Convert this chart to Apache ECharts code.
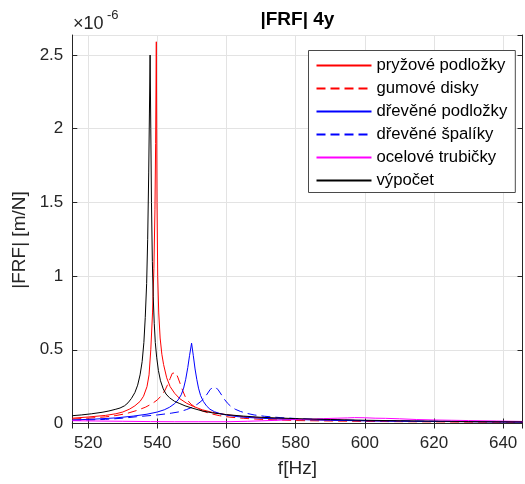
<!DOCTYPE html>
<html>
<head>
<meta charset="utf-8">
<script src="https://cdn.jsdelivr.net/npm/echarts@6/dist/echarts.min.js"></script>
<style>
html,body{margin:0;padding:0;background:#fff;}
#chart{width:525px;height:484px;}
</style>
</head>
<body>
<div id="chart"></div>
<script>
// ---- Data (values in units of 1e-6 m/N) ----
const seriesNames = ['pryžové podložky','gumové disky','dřevěné podložky','dřevěné špalíky','ocelové trubičky','výpočet'];

const fPryz = [515.4,520,525,528,530,532,533.5,535,536,537,537.6,538.1,538.6,539.0,539.3,539.5,539.7,539.9,540.1,540.4,540.8,541.3,541.8,542.7,543.7,545,546.5,548.5,550.5,553,556,560,565,575,590,610,630,645.6];
const vPryz = [0.036,0.044,0.055,0.066,0.078,0.098,0.12,0.15,0.185,0.25,0.33,0.50,0.75,1.05,1.45,1.90,2.59,1.50,1.00,0.75,0.58,0.47,0.40,0.31,0.25,0.205,0.168,0.137,0.115,0.093,0.075,0.060,0.046,0.032,0.023,0.016,0.012,0.010];

const fGum = [515.4,520,525,528,531,534,536.5,538.5,540,541.2,542.2,543,543.7,544.3,544.8,545.3,545.9,546.6,547.3,548,548.8,549.8,551,553,555.5,558,561,565,570,580,600,620,645.6];
const vGum = [0.030,0.036,0.045,0.054,0.067,0.088,0.11,0.135,0.16,0.19,0.225,0.265,0.305,0.34,0.35,0.345,0.315,0.27,0.225,0.185,0.155,0.13,0.11,0.085,0.066,0.053,0.043,0.035,0.028,0.020,0.014,0.011,0.008];

const fDrevPod = [515.4,522,528,533,537,540,542,543.5,545,546,546.9,547.6,548.2,548.8,549.3,549.9,550.4,550.9,551.4,551.9,552.5,553.3,554.2,555.2,556.5,558,560,563,566,570.6,580,590,600,620,645.6];
const vDrevPod = [0.024,0.030,0.038,0.050,0.063,0.078,0.093,0.11,0.135,0.16,0.195,0.24,0.30,0.38,0.46,0.545,0.46,0.37,0.30,0.24,0.19,0.15,0.12,0.097,0.080,0.068,0.057,0.047,0.041,0.035,0.027,0.022,0.018,0.014,0.010];

const fDrevSpal = [515.4,525,530,534,540,544,546.5,548.5,550,551.5,552.6,553.5,554.4,555.2,555.9,556.4,556.9,557.6,558.4,559.2,560.2,561.3,562.5,564,566,568,571,575.5,580,585,592,600,610,620,632,645.6];
const vDrevSpal = [0.020,0.028,0.036,0.046,0.058,0.070,0.080,0.095,0.11,0.13,0.15,0.17,0.20,0.228,0.245,0.25,0.245,0.228,0.20,0.17,0.14,0.115,0.097,0.082,0.068,0.058,0.049,0.040,0.034,0.029,0.024,0.020,0.017,0.015,0.013,0.011];

const fOcel = [515.4,522,530,538,545,552,560,566,570,574,578,582,585,588,592,595,597,600,603,606,610,615,620,625,630,638,645.6];
const vOcel = [0.019,0.017,0.015,0.013,0.012,0.012,0.012,0.015,0.018,0.021,0.025,0.028,0.030,0.033,0.036,0.038,0.040,0.039,0.036,0.035,0.032,0.027,0.024,0.022,0.020,0.017,0.014];

const fVyp = [515.4,518,521,524,526,528,529.2,530.5,531.5,532.5,533.5,534.3,535,535.6,536.1,536.5,536.9,537.2,537.5,537.7,537.9,538.1,538.3,538.55,538.8,539.1,539.4,539.8,540.3,540.9,541.7,542.5,543.5,545,546.5,548,550,553,556,560,565,570,580,590,600,615,630,645.6];
const vVyp = [0.053,0.058,0.066,0.076,0.085,0.097,0.105,0.12,0.14,0.17,0.21,0.26,0.33,0.42,0.55,0.72,0.95,1.25,1.70,2.10,2.50,2.00,1.50,1.10,0.86,0.68,0.55,0.45,0.36,0.29,0.235,0.20,0.175,0.15,0.135,0.12,0.105,0.085,0.072,0.060,0.050,0.042,0.033,0.027,0.022,0.017,0.013,0.011];

const xTicks = [520,540,560,580,600,620,640];
const yTicks = [0,0.5,1,1.5,2,2.5];

// ---- Chart ----
const FONT = 'Liberation Sans, Arial, Helvetica, sans-serif';
const AX = '#262626';
const GRIDC = '#e3e3e3';
const XMIN = 515.4, XMAX = 645.6, YMIN = 0, YMAX = 2.636;

function pairs(f, v){ return f.map((x,i)=>[x, v[i]]); }

const styles = [
  {color:'#ff0000', type:'solid'},
  {color:'#ff0000', type:[9,5]},
  {color:'#0000ff', type:'solid'},
  {color:'#0000ff', type:[9,5]},
  {color:'#ff00ff', type:'solid'},
  {color:'#000000', type:'solid'}
];
const dataSets = [pairs(fPryz,vPryz), pairs(fGum,vGum), pairs(fDrevPod,vDrevPod), pairs(fDrevSpal,vDrevSpal), pairs(fOcel,vOcel), pairs(fVyp,vVyp)];

const chart = echarts.init(document.getElementById('chart'), null, {renderer:'canvas'});

const baseX = {
  type:'value', min:XMIN, max:XMAX, splitNumber:7,
  axisLine:{show:true, lineStyle:{color:AX, width:1}},
  axisTick:{show:true, inside:true, length:5, lineStyle:{color:AX}},
};
const baseY = {
  type:'value', min:YMIN, max:YMAX, interval:0.5,
  axisLine:{show:true, lineStyle:{color:AX, width:1}},
  axisTick:{show:true, inside:true, length:5, lineStyle:{color:AX}},
};

chart.setOption({
  animation:false,
  backgroundColor:'#ffffff',
  textStyle:{fontFamily:FONT},
  grid:{left:72.3, right:2.5, top:35, bottom:60.5, containLabel:false},
  xAxis:[
    Object.assign({}, baseX, {
      position:'bottom',
      name:'f[Hz]', nameLocation:'middle', nameGap:36,
      nameTextStyle:{fontSize:19, color:AX, fontFamily:FONT},
      axisLabel:{show:true, fontSize:17, color:AX, margin:11, fontFamily:FONT, showMinLabel:false, showMaxLabel:false,
        formatter:function(v){ const r=Math.round(v); return (xTicks.indexOf(r)>=0 && Math.abs(v-r)<1e-6) ? String(r) : ''; }},
      splitLine:{show:true, lineStyle:{color:GRIDC, width:1}}
    }),
    Object.assign({}, baseX, {
      position:'top',
      axisLabel:{show:false},
      splitLine:{show:false}
    })
  ],
  yAxis:[
    Object.assign({}, baseY, {
      position:'left',
      axisLabel:{show:true, fontSize:17, color:AX, margin:9, fontFamily:FONT, showMaxLabel:false,
        formatter:function(v){ return yTicks.indexOf(v)>=0 ? String(v) : ''; }},
      splitLine:{show:true, lineStyle:{color:GRIDC, width:1}}
    }),
    Object.assign({}, baseY, {
      position:'right',
      axisLabel:{show:false},
      splitLine:{show:false}
    })
  ],
  legend:{
    show:true, orient:'vertical', left:308.5, top:50.5,
    data:seriesNames,
    itemWidth:55, itemHeight:10, itemGap:5,
    padding:[6,8,3,7],
    itemStyle:{opacity:0},
    backgroundColor:'#ffffff', borderColor:'#4a4a4a', borderWidth:1,
    textStyle:{fontSize:16.7, color:'#000', fontFamily:FONT, lineHeight:18},
    selectedMode:false
  },
  graphic:[
    {type:'text', x:297.4, y:20, style:{text:'|FRF| 4y', font:'bold 19px '+FONT, fill:'#000', align:'center', verticalAlign:'middle'}},
    {type:'text', x:73, y:24, style:{text:'×10', font:'18px '+FONT, fill:AX, align:'left', verticalAlign:'middle'}},
    {type:'text', x:107, y:15, style:{text:'-6', font:'13px '+FONT, fill:AX, align:'left', verticalAlign:'middle'}},
    {type:'text', x:20, y:240, rotation:Math.PI/2, style:{text:'|FRF| [m/N]', font:'19px '+FONT, fill:AX, align:'center', verticalAlign:'middle'}}
  ],
  series: seriesNames.map((name,i)=>({
    name:name, type:'line', xAxisIndex:0, yAxisIndex:0,
    data:dataSets[i], symbol:'none', showSymbol:false, smooth:false, clip:true,
    lineStyle:{color:styles[i].color, width:1, type:styles[i].type},
    itemStyle:{color:styles[i].color},
    emphasis:{disabled:true}, silent:true
  }))
});
</script>
</body>
</html>
